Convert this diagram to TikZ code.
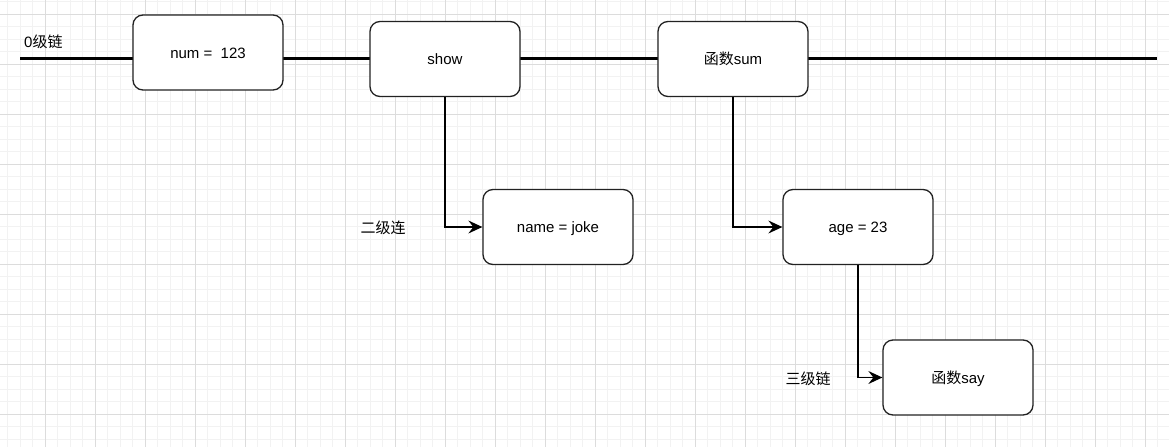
\documentclass[tikz,border=0pt]{standalone}
\usepackage{fontspec}
\setmainfont{Liberation Sans}
\newfontfamily\cjk{Noto Sans CJK SC}
\usepackage{xcolor}
\usetikzlibrary{arrows.meta,positioning}

\definecolor{minorgrid}{HTML}{F2F2F2}
\definecolor{majorgrid}{HTML}{DCDCDC}
\definecolor{boxline}{HTML}{222222}

\begin{document}
\begin{tikzpicture}[x=1pt, y=-1pt,
    box/.style={rectangle, rounded corners=10pt, draw=boxline, line width=1.3pt, fill=white, minimum width=150pt, minimum height=75pt, inner sep=0pt, text height=11pt, text depth=0pt, font=\fontsize{15}{18}\selectfont},
    tag/.style={inner sep=0pt, text height=11pt, text depth=0pt, font=\fontsize{15}{18}\selectfont},
    link/.style={line width=1.3pt, -{Stealth[length=14pt, width=13pt, inset=5pt]}},
    chain/.style={line width=3pt}]
    \fill[white] (0,0) rectangle (1169,447);
    \useasboundingbox (0,0) rectangle (1169,447);

    % grid
    \foreach \x in {7.5,20,...,1169} \draw[minorgrid, line width=1pt] (\x,0) -- (\x,447);
    \foreach \y in {1.5,14,...,447} \draw[minorgrid, line width=1pt] (0,\y) -- (1169,\y);
    \foreach \x in {45,95,...,1169} \draw[majorgrid, line width=1pt] (\x,0) -- (\x,447);
    \foreach \y in {14,64,...,447} \draw[majorgrid, line width=1pt] (0,\y) -- (1169,\y);

    % level 0
    \coordinate (chainstart) at (20,58);
    \coordinate (chainend) at (1157,58);
    \draw[chain] (chainstart) -- (chainend);
    \node (level0) [tag, anchor=west] at (24,42) {0{\cjk 级链}};

    \node (num) [box] at (208,52.5) {num = \ 123};
    \node (show) [box] at (445,59) {show};
    \node (sum) [box] at (733,59) {{\cjk 函数}sum};

    % level 2 and 3
    \node (name) [box] at (558,227) {name = joke};
    \node (age) [box] at (858,227) {age = 23};
    \node (say) [box] at (958,377.5) {{\cjk 函数}say};

    \node (level2) [tag] at (383,228) {\cjk 二级连};
    \node (level3) [tag] at (808,378.5) {\cjk 三级链};

    \draw [link] (show.south) |- (name.west);
    \draw [link] (sum.south) |- (age.west);
    \draw [link] (age.south) |- (say.west);
\end{tikzpicture}
\end{document}
